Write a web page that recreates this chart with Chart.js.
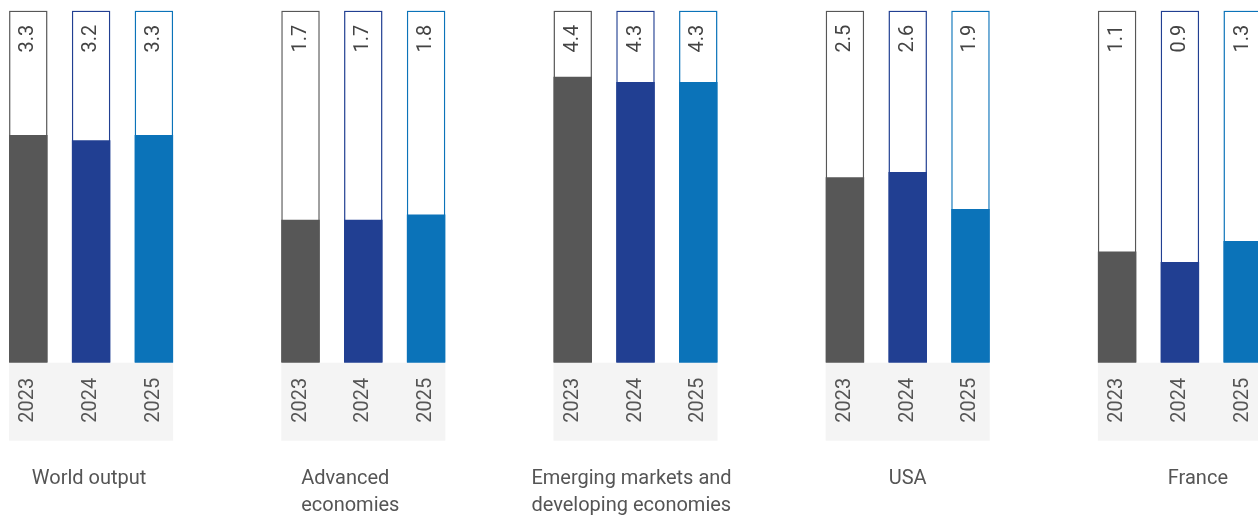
<!DOCTYPE html>
<html>
<head>
<meta charset="utf-8">
<script src="https://cdn.jsdelivr.net/npm/chart.js@4.4.1/dist/chart.umd.min.js"></script>
<style>
  html, body { margin: 0; padding: 0; background: #fff; overflow: hidden; }
  #wrap { position: relative; width: 1258px; height: 519px; overflow: hidden; }
  #growth { position: absolute; left: -45px; top: 0; }
</style>
</head>
<body>
<div id="wrap"><canvas id="growth" width="1361" height="519"></canvas></div>
<script>
// GDP growth, % per year
const regions = [['World output'], ['Advanced', 'economies'], ['Emerging markets and', 'developing economies'], ['USA'], ['France']];
const years = ['2023', '2024', '2025'];
const growth2023 = [3.3, 1.7, 4.4, 2.5, 1.1];
const growth2024 = [3.2, 1.7, 4.3, 2.6, 0.9];
const growth2025 = [3.3, 1.8, 4.3, 1.9, 1.3];

const yMin = -1;
const yMax = 5.65;
const colors = ['#575757', '#213f92', '#0b73b9'];
const fontFamily = 'Roboto, "Noto Sans", sans-serif';
// small horizontal nudges for the region captions
const captionShift = [-2, -13, -4, 0, 18];

const series = [growth2023, growth2024, growth2025];

// outline "tubes" running the full scale, then the filled bars on top
const frames = years.map((y, j) => ({
  label: y + ' frame',
  data: regions.map(() => yMax),
  base: yMin,
  stack: 's' + j,
  order: 2,
  backgroundColor: '#fff',
  borderColor: colors[j],
  borderWidth: 1.5,
  borderSkipped: false
}));
const fills = years.map((y, j) => ({
  label: y,
  data: series[j],
  base: yMin,
  stack: 's' + j,
  order: 1,
  backgroundColor: colors[j],
  borderWidth: 0
}));

const decorations = {
  id: 'decorations',
  beforeDatasetsDraw(chart) {
    const { ctx, chartArea } = chart;
    const firstCol = chart.getDatasetMeta(0).data;
    const lastCol = chart.getDatasetMeta(2).data;
    ctx.save();
    ctx.fillStyle = '#f4f4f4';
    firstCol.forEach((bar, i) => {
      const left = bar.x - bar.width / 2;
      const right = lastCol[i].x + lastCol[i].width / 2;
      ctx.fillRect(left, chartArea.bottom, right - left, 78);
    });
    ctx.restore();
  },
  afterDatasetsDraw(chart) {
    const { ctx, chartArea } = chart;
    const xScale = chart.scales.x;
    ctx.save();
    // value labels at the top of each tube and year labels in the grey strip
    years.forEach((year, j) => {
      const frameMeta = chart.getDatasetMeta(j);
      const fillMeta = chart.getDatasetMeta(3 + j);
      fillMeta.data.forEach((bar, i) => {
        const top = frameMeta.data[i].y;
        ctx.save();
        ctx.translate(bar.x, top + 42);
        ctx.rotate(-Math.PI / 2);
        ctx.font = '20px ' + fontFamily;
        ctx.fillStyle = '#444';
        ctx.textAlign = 'left';
        ctx.textBaseline = 'middle';
        ctx.fillText(series[j][i].toFixed(1), 0, 0);
        ctx.restore();

        ctx.save();
        ctx.translate(bar.x, chartArea.bottom + 37.5);
        ctx.rotate(-Math.PI / 2);
        ctx.font = '20px ' + fontFamily;
        ctx.fillStyle = '#555';
        ctx.textAlign = 'center';
        ctx.textBaseline = 'middle';
        ctx.fillText(year, 0, 0);
        ctx.restore();
      });
    });
    // region captions under each group
    ctx.font = '20px ' + fontFamily;
    ctx.fillStyle = '#555';
    ctx.textAlign = 'left';
    ctx.textBaseline = 'alphabetic';
    regions.forEach((lines, i) => {
      const cx = xScale.getPixelForValue(i) + captionShift[i];
      const w = Math.max(...lines.map(l => ctx.measureText(l).width));
      lines.forEach((line, k) => {
        ctx.fillText(line, cx - w / 2, chartArea.bottom + 121 + k * 27);
      });
    });
    ctx.restore();
  }
};

new Chart(document.getElementById('growth'), {
  type: 'bar',
  data: {
    labels: regions.map(r => r.join(' ')),
    datasets: [...frames, ...fills]
  },
  options: {
    responsive: false,
    animation: false,
    layout: { padding: { top: 10.5, bottom: 156.3, left: 0, right: 0 } },
    datasets: {
      bar: { categoryPercentage: 0.692, barPercentage: 0.613 }
    },
    scales: {
      x: { stacked: true, display: false },
      y: { stacked: false, display: false, min: yMin, max: yMax }
    },
    plugins: {
      legend: { display: false },
      tooltip: { enabled: false }
    }
  },
  plugins: [decorations]
});
</script>
</body>
</html>
